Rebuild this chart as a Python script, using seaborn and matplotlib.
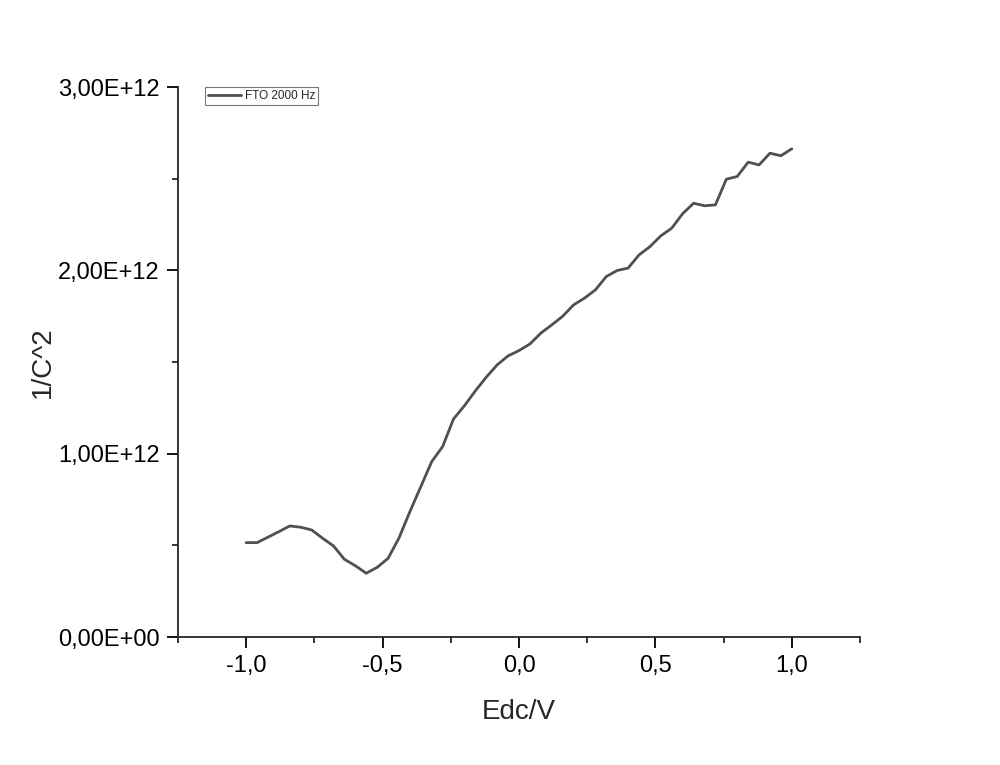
import numpy as np
import pandas as pd
import matplotlib
matplotlib.use("Agg")
import matplotlib.pyplot as plt
import seaborn as sns
from matplotlib.ticker import FuncFormatter, MultipleLocator

# data (Mott-Schottky, FTO 2000 Hz)
edc = [round(-1.0 + 0.04 * i, 2) for i in range(51)]
inv_c2 = [0.515, 0.515, 0.545, 0.575, 0.606, 0.599, 0.584, 0.539, 0.497, 0.424,
          0.389, 0.348, 0.380, 0.429, 0.540, 0.684, 0.820, 0.957, 1.039, 1.190,
          1.262, 1.343, 1.418, 1.485, 1.534, 1.563, 1.599, 1.658, 1.703, 1.750,
          1.812, 1.849, 1.894, 1.967, 2.000, 2.013, 2.085, 2.130, 2.189, 2.231,
          2.310, 2.367, 2.353, 2.358, 2.498, 2.513, 2.591, 2.576, 2.640, 2.626,
          2.664]
inv_c2 = [v * 1e12 for v in inv_c2]
series_name = "FTO 2000 Hz"

df = pd.DataFrame({"Edc/V": edc, "1/C^2": inv_c2, "serie": series_name})

sns.set_style("ticks")
plt.rcParams['font.family'] = ['Liberation Sans', 'DejaVu Sans']

fig = plt.figure(figsize=(10, 7.65), dpi=100)
ax = fig.add_axes([0.178, 0.1673, 0.682, 0.7187])

sns.lineplot(data=df, x="Edc/V", y="1/C^2", hue="serie", palette=["#505050"],
             linewidth=2, ax=ax)

ax.set_xlim(-1.25, 1.25)
ax.set_ylim(0, 3e12)
ax.xaxis.set_major_locator(MultipleLocator(0.5))
ax.xaxis.set_minor_locator(MultipleLocator(0.25))
ax.yaxis.set_major_locator(MultipleLocator(1e12))
ax.yaxis.set_minor_locator(MultipleLocator(0.5e12))
ax.xaxis.set_major_formatter(FuncFormatter(lambda v, p: f"{v:.1f}".replace(".", ",").replace("-0,0", "0,0")))
ax.yaxis.set_major_formatter(FuncFormatter(lambda v, p: f"{v:.2E}".replace(".", ",")))
ax.yaxis.get_offset_text().set_visible(False)

ax.tick_params(which="major", direction="out", length=8, width=1.3, labelsize=17,
               colors="black", pad=5)
ax.tick_params(which="minor", direction="out", length=4, width=1.3)
for s in ["left", "bottom"]:
    ax.spines[s].set_linewidth(1.3)
sns.despine(ax=ax)

ax.set_xlabel("Edc/V", fontsize=20, labelpad=16)
ax.set_ylabel("1/C^2", fontsize=20, labelpad=2)

leg = ax.legend(loc="upper left", bbox_to_anchor=(0.04, 1.0), fontsize=8.5,
                frameon=True, fancybox=False, edgecolor="#555555", borderpad=0.25,
                handlelength=2.8, handletextpad=0.3, borderaxespad=0.0)
leg.get_frame().set_linewidth(0.8)

fig.savefig("out.png", dpi=100)
